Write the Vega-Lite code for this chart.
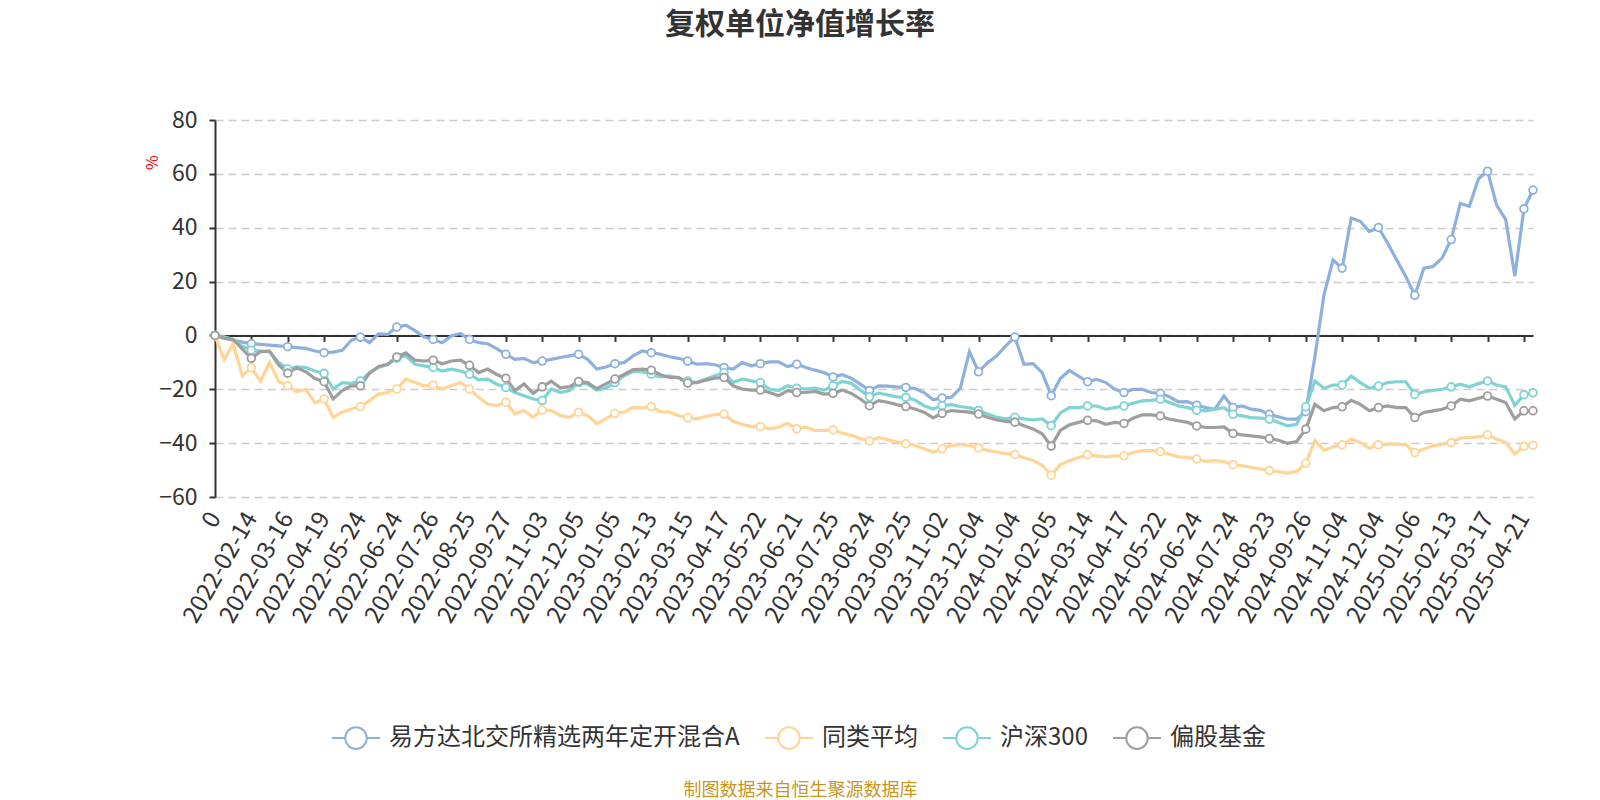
{
  "$schema": "https://vega.github.io/schema/vega-lite/v6.json",
  "width": 1318,
  "height": 377,
  "autosize": {"type": "none"},
  "padding": {"left": 215, "top": 120, "right": 67, "bottom": 303},
  "background": "white",
  "config": {"font": "Noto Sans CJK SC", "view": {"stroke": null}},
  "title": {"text": "复权单位净值增长率", "fontSize": 30, "fontWeight": "bold", "color": "#333333", "anchor": "middle", "offset": 69, "dx": -74, "font": "Noto Sans CJK SC"},
  "data": {"values": [
    {"d":"2022-01-07","易方达北交所精选两年定开混合A":0,"同类平均":0,"沪深300":0,"偏股基金":0},
    {"d":"2022-01-14","易方达北交所精选两年定开混合A":-0.9,"同类平均":-9,"沪深300":-0.5,"偏股基金":-1},
    {"d":"2022-01-21","易方达北交所精选两年定开混合A":-1.8,"同类平均":-3,"沪深300":-1.5,"偏股基金":-1.5},
    {"d":"2022-02-07","易方达北交所精选两年定开混合A":-2.5,"同类平均":-15,"沪深300":-4,"偏股基金":-5},
    {"d":"2022-02-14","易方达北交所精选两年定开混合A":-3.1,"同类平均":-12,"沪深300":-5.5,"偏股基金":-8.5},
    {"d":"2022-02-21","易方达北交所精选两年定开混合A":-3.3,"同类平均":-17,"沪深300":-5.8,"偏股基金":-6},
    {"d":"2022-03-01","易方达北交所精选两年定开混合A":-3.6,"同类平均":-10,"沪深300":-6,"偏股基金":-5.8},
    {"d":"2022-03-08","易方达北交所精选两年定开混合A":-3.9,"同类平均":-17,"沪深300":-10,"偏股基金":-11},
    {"d":"2022-03-16","易方达北交所精选两年定开混合A":-4.2,"同类平均":-18.7,"沪深300":-12.5,"偏股基金":-14},
    {"d":"2022-03-24","易方达北交所精选两年定开混合A":-4.5,"同类平均":-21,"沪深300":-11.7,"偏股基金":-12},
    {"d":"2022-04-01","易方达北交所精选两年定开混合A":-4.8,"同类平均":-20,"沪深300":-11.9,"偏股基金":-13.5},
    {"d":"2022-04-11","易方达北交所精选两年定开混合A":-5.8,"同类平均":-25,"沪深300":-13.2,"偏股基金":-16},
    {"d":"2022-04-19","易方达北交所精选两年定开混合A":-6.4,"同类平均":-23.6,"沪深300":-14.1,"偏股基金":-17.2},
    {"d":"2022-04-27","易方达北交所精选两年定开混合A":-6.2,"同类平均":-30.4,"沪深300":-19.9,"偏股基金":-23.6},
    {"d":"2022-05-09","易方达北交所精选两年定开混合A":-5.5,"同类平均":-28.5,"沪深300":-17.5,"偏股基金":-20.5},
    {"d":"2022-05-16","易方达北交所精选两年定开混合A":-1.8,"同类平均":-27.3,"沪深300":-17.8,"偏股基金":-18.7},
    {"d":"2022-05-24","易方达北交所精选两年定开混合A":-0.6,"同类平均":-26.4,"沪深300":-16.9,"偏股基金":-18.7},
    {"d":"2022-05-31","易方达北交所精选两年定开混合A":-2.7,"同类平均":-24.2,"沪深300":-13.8,"偏股基金":-14},
    {"d":"2022-06-09","易方达北交所精选两年定开混合A":0.6,"同类平均":-21.8,"沪深300":-11.9,"偏股基金":-11.5},
    {"d":"2022-06-16","易方达北交所精选两年定开混合A":0.4,"同类平均":-21.2,"沪深300":-10.7,"偏股基金":-10.7},
    {"d":"2022-06-24","易方达北交所精选两年定开混合A":3.1,"同类平均":-19.9,"沪深300":-8.5,"偏股基金":-8},
    {"d":"2022-07-01","易方达北交所精选两年定开混合A":3.8,"同类平均":-16.2,"沪深300":-7.6,"偏股基金":-6.5},
    {"d":"2022-07-11","易方达北交所精选两年定开混合A":1.8,"同类平均":-17.5,"沪深300":-10.7,"偏股基金":-9.2},
    {"d":"2022-07-18","易方达北交所精选两年定开混合A":-0.6,"同类平均":-18.7,"沪深300":-11.3,"偏股基金":-9.5},
    {"d":"2022-07-26","易方达北交所精选两年定开混合A":-1.5,"同类平均":-18.5,"沪深300":-11.9,"偏股基金":-9.2},
    {"d":"2022-08-02","易方达北交所精选两年定开混合A":-2.7,"同类平均":-19.9,"沪深300":-13.2,"偏股基金":-10.5},
    {"d":"2022-08-10","易方达北交所精选两年定开混合A":-0.2,"同类平均":-18.7,"沪深300":-12.5,"偏股基金":-9.5},
    {"d":"2022-08-17","易方达北交所精选两年定开混合A":0.7,"同类平均":-17.5,"沪深300":-13.2,"偏股基金":-9.2},
    {"d":"2022-08-25","易方达北交所精选两年定开混合A":-1.5,"同类平均":-19.9,"沪深300":-14.4,"偏股基金":-11.1},
    {"d":"2022-09-01","易方达北交所精选两年定开混合A":-2.7,"同类平均":-23,"沪深300":-16.5,"偏股基金":-13.8},
    {"d":"2022-09-09","易方达北交所精选两年定开混合A":-3.1,"同类平均":-25.5,"沪深300":-16.2,"偏股基金":-12.5},
    {"d":"2022-09-19","易方达北交所精选两年定开混合A":-4.9,"同类平均":-26.1,"沪深300":-18.1,"偏股基金":-14.5},
    {"d":"2022-09-27","易方达北交所精选两年定开混合A":-7,"同类平均":-24.8,"沪深300":-19.3,"偏股基金":-15.9},
    {"d":"2022-10-13","易方达北交所精选两年定开混合A":-8.9,"同类平均":-29.2,"沪深300":-21.2,"偏股基金":-20.5},
    {"d":"2022-10-20","易方达北交所精选两年定开混合A":-8.5,"同类平均":-27.9,"沪深300":-22.4,"偏股基金":-18},
    {"d":"2022-10-27","易方达北交所精选两年定开混合A":-10.1,"同类平均":-30.4,"沪深300":-23.6,"偏股基金":-21.5},
    {"d":"2022-11-03","易方达北交所精选两年定开混合A":-9.5,"同类平均":-27.7,"沪深300":-24.2,"偏股基金":-19.1},
    {"d":"2022-11-10","易方达北交所精选两年定开混合A":-8.9,"同类平均":-27.9,"沪深300":-19.9,"偏股基金":-17},
    {"d":"2022-11-17","易方达北交所精选两年定开混合A":-8.2,"同类平均":-29.8,"沪深300":-21.2,"偏股基金":-19.5},
    {"d":"2022-11-25","易方达北交所精选两年定开混合A":-7.6,"同类平均":-30.4,"沪深300":-20.5,"偏股基金":-19},
    {"d":"2022-12-05","易方达北交所精选两年定开混合A":-7,"同类平均":-28.5,"沪深300":-17.5,"偏股基金":-17.1},
    {"d":"2022-12-12","易方达北交所精选两年定开混合A":-8.9,"同类平均":-29.8,"沪深300":-18.1,"偏股基金":-17.5},
    {"d":"2022-12-19","易方达北交所精选两年定开混合A":-12.5,"同类平均":-32.8,"沪深300":-20.3,"偏股基金":-19.8},
    {"d":"2022-12-27","易方达北交所精选两年定开混合A":-11.7,"同类平均":-31,"沪深300":-19.6,"偏股基金":-18},
    {"d":"2023-01-05","易方达北交所精选两年定开混合A":-10.5,"同类平均":-28.9,"沪深300":-17.5,"偏股基金":-16.2},
    {"d":"2023-01-12","易方达北交所精选两年定开混合A":-10.1,"同类平均":-28.5,"沪深300":-15,"偏股基金":-14.5},
    {"d":"2023-01-19","易方达北交所精选两年定开混合A":-7.6,"同类平均":-26.7,"沪深300":-13.4,"偏股基金":-12.7},
    {"d":"2023-02-03","易方达北交所精选两年定开混合A":-5.8,"同类平均":-26.9,"沪深300":-13.5,"偏股基金":-12.5},
    {"d":"2023-02-13","易方达北交所精选两年定开混合A":-6.4,"同类平均":-26.4,"沪深300":-14.4,"偏股基金":-12.9},
    {"d":"2023-02-20","易方达北交所精选两年定开混合A":-7,"同类平均":-28.3,"沪深300":-15.4,"偏股基金":-14.6},
    {"d":"2023-02-27","易方达北交所精选两年定开混合A":-7.9,"同类平均":-28.5,"沪深300":-15,"偏股基金":-15.6},
    {"d":"2023-03-07","易方达北交所精选两年定开混合A":-8.5,"同类平均":-29.8,"沪深300":-15.9,"偏股基金":-15.6},
    {"d":"2023-03-15","易方达北交所精选两年定开混合A":-9.5,"同类平均":-30.6,"沪深300":-16.9,"偏股基金":-17.7},
    {"d":"2023-03-22","易方达北交所精选两年定开混合A":-10.7,"同类平均":-31,"沪深300":-17.5,"偏股基金":-17.5},
    {"d":"2023-03-30","易方达北交所精选两年定开混合A":-10.5,"同类平均":-30.1,"沪深300":-16.2,"偏股基金":-16.6},
    {"d":"2023-04-10","易方达北交所精选两年定开混合A":-10.9,"同类平均":-29.4,"沪深300":-15,"偏股基金":-15.9},
    {"d":"2023-04-17","易方达北交所精选两年定开混合A":-11.9,"同类平均":-29.2,"沪深300":-13.8,"偏股基金":-15.6},
    {"d":"2023-04-24","易方达北交所精选两年定开混合A":-12.5,"同类平均":-31.9,"沪深300":-17.5,"偏股基金":-18.7},
    {"d":"2023-05-05","易方达北交所精选两年定开混合A":-10.1,"同类平均":-33.1,"沪深300":-16.2,"偏股基金":-19.9},
    {"d":"2023-05-12","易方达北交所精选两年定开混合A":-11.3,"同类平均":-33.8,"沪深300":-16.9,"偏股基金":-20.3},
    {"d":"2023-05-22","易方达北交所精选两年定开混合A":-10.5,"同类平均":-33.8,"沪深300":-17.5,"偏股基金":-20.3},
    {"d":"2023-05-29","易方达北交所精选两年定开混合A":-9.8,"同类平均":-34.7,"沪深300":-19.9,"偏股基金":-21.2},
    {"d":"2023-06-05","易方达北交所精选两年定开混合A":-9.8,"同类平均":-34.1,"沪深300":-20.5,"偏股基金":-22.4},
    {"d":"2023-06-13","易方达北交所精选两年定开混合A":-11.6,"同类平均":-32.6,"沪深300":-18.7,"偏股基金":-20.5},
    {"d":"2023-06-21","易方达北交所精选两年定开混合A":-10.7,"同类平均":-34.7,"沪深300":-19.6,"偏股基金":-21.2},
    {"d":"2023-06-30","易方达北交所精选两年定开混合A":-11.9,"同类平均":-34.1,"沪深300":-19.9,"偏股基金":-21.2},
    {"d":"2023-07-10","易方达北交所精选两年定开混合A":-12.9,"同类平均":-35.3,"沪深300":-19.6,"偏股基金":-20.8},
    {"d":"2023-07-17","易方达北交所精选两年定开混合A":-13.8,"同类平均":-35.3,"沪深300":-20.3,"偏股基金":-21.8},
    {"d":"2023-07-25","易方达北交所精选两年定开混合A":-15.4,"同类平均":-35.1,"沪深300":-18.7,"偏股基金":-21.5},
    {"d":"2023-08-01","易方达北交所精选两年定开混合A":-14.6,"同类平均":-36.3,"沪深300":-17.1,"偏股基金":-20.3},
    {"d":"2023-08-08","易方达北交所精选两年定开混合A":-15.9,"同类平均":-37.1,"沪深300":-17.8,"偏股基金":-21.5},
    {"d":"2023-08-16","易方达北交所精选两年定开混合A":-18.1,"同类平均":-38.4,"沪深300":-20.3,"偏股基金":-23.6},
    {"d":"2023-08-24","易方达北交所精选两年定开混合A":-20.5,"同类平均":-39.2,"沪深300":-22.8,"偏股基金":-26.1},
    {"d":"2023-08-31","易方达北交所精选两年定开混合A":-18.7,"同类平均":-38,"沪深300":-21.4,"偏股基金":-24.2},
    {"d":"2023-09-08","易方达北交所精选两年定开混合A":-18.8,"同类平均":-38.7,"沪深300":-22.1,"偏股基金":-24.8},
    {"d":"2023-09-15","易方达北交所精选两年定开混合A":-19.1,"同类平均":-39.6,"沪深300":-22.8,"偏股基金":-25.7},
    {"d":"2023-09-25","易方达北交所精选两年定开混合A":-19.3,"同类平均":-40.2,"沪深300":-23,"偏股基金":-26.4},
    {"d":"2023-10-12","易方达北交所精选两年定开混合A":-19.7,"同类平均":-40.8,"沪深300":-24,"偏股基金":-27.3},
    {"d":"2023-10-19","易方达北交所精选两年定开混合A":-21.2,"同类平均":-42.1,"沪深300":-26.1,"偏股基金":-28.5},
    {"d":"2023-10-26","易方达北交所精选两年定开混合A":-23.9,"同类平均":-43.3,"沪深300":-27.3,"偏股基金":-30.6},
    {"d":"2023-11-02","易方达北交所精选两年定开混合A":-23.2,"同类平均":-42.1,"沪深300":-26.1,"偏股基金":-28.9},
    {"d":"2023-11-09","易方达北交所精选两年定开混合A":-23,"同类平均":-40.8,"沪深300":-25.7,"偏股基金":-27.9},
    {"d":"2023-11-16","易方达北交所精选两年定开混合A":-19.6,"同类平均":-40.5,"沪深300":-26.4,"偏股基金":-28.2},
    {"d":"2023-11-24","易方达北交所精选两年定开混合A":-6,"同类平均":-40.8,"沪深300":-26.9,"偏股基金":-28.5},
    {"d":"2023-12-04","易方达北交所精选两年定开混合A":-13.5,"同类平均":-41.8,"沪深300":-27.9,"偏股基金":-29.2},
    {"d":"2023-12-11","易方达北交所精选两年定开混合A":-10.1,"同类平均":-42.7,"沪深300":-29.2,"偏股基金":-30.4},
    {"d":"2023-12-18","易方达北交所精选两年定开混合A":-7.6,"同类平均":-43.3,"沪深300":-30.4,"偏股基金":-31.4},
    {"d":"2023-12-26","易方达北交所精选两年定开混合A":-3.9,"同类平均":-43.9,"沪深300":-31,"偏股基金":-31.9},
    {"d":"2024-01-04","易方达北交所精选两年定开混合A":-0.6,"同类平均":-44.2,"沪深300":-30.4,"偏股基金":-32.2},
    {"d":"2024-01-11","易方达北交所精选两年定开混合A":-10.7,"同类平均":-45.4,"沪深300":-31,"偏股基金":-33.5},
    {"d":"2024-01-18","易方达北交所精选两年定开混合A":-10.5,"同类平均":-46.4,"沪深300":-31.4,"偏股基金":-34.7},
    {"d":"2024-01-26","易方达北交所精选两年定开混合A":-13.8,"同类平均":-48.2,"沪深300":-31,"偏股基金":-36.5},
    {"d":"2024-02-05","易方达北交所精选两年定开混合A":-22.4,"同类平均":-51.9,"沪深300":-33.5,"偏股基金":-41.1},
    {"d":"2024-02-20","易方达北交所精选两年定开混合A":-16,"同类平均":-48,"沪深300":-28.8,"偏股基金":-35.3},
    {"d":"2024-02-28","易方达北交所精选两年定开混合A":-13,"同类平均":-46.5,"沪深300":-26.8,"偏股基金":-33.2},
    {"d":"2024-03-06","易方达北交所精选两年定开混合A":-15.1,"同类平均":-45.3,"沪深300":-26.8,"偏股基金":-32.3},
    {"d":"2024-03-14","易方达北交所精选两年定开混合A":-17.2,"同类平均":-44.3,"沪深300":-26.2,"偏股基金":-31.5},
    {"d":"2024-03-21","易方达北交所精选两年定开混合A":-16.3,"同类平均":-44.7,"沪深300":-26.2,"偏股基金":-31.7},
    {"d":"2024-03-29","易方达北交所精选两年定开混合A":-17.5,"同类平均":-45.1,"沪深300":-27.4,"偏股基金":-33},
    {"d":"2024-04-09","易方达北交所精选两年定开混合A":-20,"同类平均":-44.7,"沪深300":-26.8,"偏股基金":-32.3},
    {"d":"2024-04-17","易方达北交所精选两年定开混合A":-21.2,"同类平均":-44.7,"沪深300":-26.2,"偏股基金":-32.7},
    {"d":"2024-04-24","易方达北交所精选两年定开混合A":-20,"同类平均":-43.5,"沪深300":-25.2,"偏股基金":-30.7},
    {"d":"2024-05-08","易方达北交所精选两年定开混合A":-20,"同类平均":-42.8,"沪深300":-24.3,"偏股基金":-29.5},
    {"d":"2024-05-15","易方达北交所精选两年定开混合A":-21.2,"同类平均":-42.8,"沪深300":-24.1,"偏股基金":-29.5},
    {"d":"2024-05-22","易方达北交所精选两年定开混合A":-21.5,"同类平均":-43.1,"沪深300":-23.7,"偏股基金":-29.9},
    {"d":"2024-05-29","易方达北交所精选两年定开混合A":-22.8,"同类平均":-44.1,"沪深300":-24.9,"偏股基金":-31.1},
    {"d":"2024-06-05","易方达北交所精选两年定开混合A":-24.7,"同类平均":-45.1,"沪深300":-26.2,"偏股基金":-31.7},
    {"d":"2024-06-14","易方达北交所精选两年定开混合A":-24.6,"同类平均":-45.3,"沪深300":-26.8,"偏股基金":-32.3},
    {"d":"2024-06-24","易方达北交所精选两年定开混合A":-25.9,"同类平均":-45.9,"沪深300":-27.8,"偏股基金":-33.6},
    {"d":"2024-07-01","易方达北交所精选两年定开混合A":-26.8,"同类平均":-46.8,"沪深300":-28,"偏股基金":-34.2},
    {"d":"2024-07-09","易方达北交所精选两年定开混合A":-27.4,"同类平均":-46.5,"沪深300":-27.4,"偏股基金":-34.2},
    {"d":"2024-07-16","易方达北交所精选两年定开混合A":-22.5,"同类平均":-46.8,"沪深300":-26.8,"偏股基金":-34},
    {"d":"2024-07-24","易方达北交所精选两年定开混合A":-26.8,"同类平均":-48,"沪深300":-29.3,"偏股基金":-36.4},
    {"d":"2024-07-31","易方达北交所精选两年定开混合A":-26.2,"同类平均":-48.4,"沪深300":-29.9,"偏股基金":-36.9},
    {"d":"2024-08-08","易方达北交所精选两年定开混合A":-27.4,"同类平均":-49,"沪深300":-30.5,"偏股基金":-37.3},
    {"d":"2024-08-15","易方达北交所精选两年定开混合A":-27.8,"同类平均":-49.6,"沪深300":-30.7,"偏股基金":-37.7},
    {"d":"2024-08-23","易方达北交所精选两年定开混合A":-29.3,"同类平均":-50.2,"沪深300":-31.1,"偏股基金":-38.3},
    {"d":"2024-08-30","易方达北交所精选两年定开混合A":-30.2,"同类平均":-50.6,"沪深300":-32.3,"偏股基金":-38.9},
    {"d":"2024-09-06","易方达北交所精选两年定开混合A":-31.1,"同类平均":-51.1,"沪深300":-33.6,"偏股基金":-40.1},
    {"d":"2024-09-13","易方达北交所精选两年定开混合A":-31.1,"同类平均":-50.5,"沪深300":-33,"偏股基金":-39.4},
    {"d":"2024-09-26","易方达北交所精选两年定开混合A":-28.3,"同类平均":-47.5,"沪深300":-26.5,"偏股基金":-34.8},
    {"d":"2024-10-08","易方达北交所精选两年定开混合A":-8,"同类平均":-39.1,"沪深300":-16.9,"偏股基金":-25.6},
    {"d":"2024-10-16","易方达北交所精选两年定开混合A":15,"同类平均":-42.6,"沪深300":-19.6,"偏股基金":-28},
    {"d":"2024-10-25","易方达北交所精选两年定开混合A":28,"同类平均":-41.4,"沪深300":-18.4,"偏股基金":-26.8},
    {"d":"2024-11-04","易方达北交所精选两年定开混合A":25,"同类平均":-40.6,"沪深300":-18.4,"偏股基金":-26.5},
    {"d":"2024-11-11","易方达北交所精选两年定开混合A":43.6,"同类平均":-38.5,"沪深300":-15.1,"偏股基金":-24.1},
    {"d":"2024-11-19","易方达北交所精选两年定开混合A":42.4,"同类平均":-39.8,"沪深300":-17.5,"偏股基金":-25.6},
    {"d":"2024-11-26","易方达北交所精选两年定开混合A":38.6,"同类平均":-41.9,"沪深300":-19.6,"偏股基金":-28},
    {"d":"2024-12-04","易方达北交所精选两年定开混合A":40.1,"同类平均":-40.6,"沪深300":-18.8,"偏股基金":-26.8},
    {"d":"2024-12-11","易方达北交所精选两年定开混合A":34.3,"同类平均":-40.4,"沪深300":-17.5,"偏股基金":-26.2},
    {"d":"2024-12-18","易方达北交所精选两年定开混合A":28.1,"同类平均":-40.4,"沪深300":-17.2,"偏股基金":-26.8},
    {"d":"2024-12-26","易方达北交所精选两年定开混合A":21.9,"同类平均":-40.6,"沪深300":-17.2,"偏股基金":-26.8},
    {"d":"2025-01-06","易方达北交所精选两年定开混合A":14.9,"同类平均":-43.5,"沪深300":-21.9,"偏股基金":-30.5},
    {"d":"2025-01-13","易方达北交所精选两年定开混合A":25,"同类平均":-42.2,"沪深300":-20.9,"偏股基金":-28.6},
    {"d":"2025-01-20","易方达北交所精选两年定开混合A":25.6,"同类平均":-41,"沪深300":-20.4,"偏股基金":-28},
    {"d":"2025-02-05","易方达北交所精选两年定开混合A":28.7,"同类平均":-40.4,"沪深300":-20,"偏股基金":-27.4},
    {"d":"2025-02-13","易方达北交所精选两年定开混合A":35.6,"同类平均":-39.8,"沪深300":-19.1,"偏股基金":-26.2},
    {"d":"2025-02-20","易方达北交所精选两年定开混合A":49,"同类平均":-38.1,"沪深300":-18.1,"偏股基金":-23.7},
    {"d":"2025-02-27","易方达北交所精选两年定开混合A":48,"同类平均":-37.9,"沪深300":-19.1,"偏股基金":-24.3},
    {"d":"2025-03-07","易方达北交所精选两年定开混合A":58.2,"同类平均":-37.7,"沪深300":-17.9,"偏股基金":-23.3},
    {"d":"2025-03-17","易方达北交所精选两年定开混合A":61,"同类平均":-36.9,"沪深300":-16.9,"偏股基金":-22.5},
    {"d":"2025-03-24","易方达北交所精选两年定开混合A":48.4,"同类平均":-38.5,"沪深300":-18.4,"偏股基金":-23.7},
    {"d":"2025-04-01","易方达北交所精选两年定开混合A":43,"同类平均":-39.8,"沪深300":-19.1,"偏股基金":-24.9},
    {"d":"2025-04-10","易方达北交所精选两年定开混合A":22,"同类平均":-44,"沪深300":-26,"偏股基金":-31},
    {"d":"2025-04-21","易方达北交所精选两年定开混合A":47,"同类平均":-41.2,"沪深300":-22,"偏股基金":-28},
    {"d":"2025-04-23","易方达北交所精选两年定开混合A":54,"同类平均":-40.8,"沪深300":-21.3,"偏股基金":-28}
  ]},
  "transform": [{"fold": ["易方达北交所精选两年定开混合A", "同类平均", "沪深300", "偏股基金"], "as": ["series", "value"]}],
  "encoding": {
    "y": {"field": "value", "type": "quantitative", "scale": {"domain": [-60, 80], "nice": false, "zero": false},
      "axis": {"values": [80, 60, 40, 20, 0, -20, -40, -60], "domainColor": "#333333", "domainWidth": 2, "tickColor": "#333333", "tickWidth": 2, "tickSize": 6, "labelFontSize": 23, "labelColor": "#333333", "labelPadding": 12, "grid": true, "gridColor": "#cccccc", "gridDash": [8, 5], "gridWidth": 1.5, "title": "%", "titleColor": "red", "titleFontSize": 16, "titleFontWeight": "normal", "titleX": -63, "titleY": 42, "titleAngle": -90, "titleAlign": "center", "titleBaseline": "middle"}},
    "color": {"field": "series", "type": "nominal",
      "scale": {"domain": ["易方达北交所精选两年定开混合A", "同类平均", "沪深300", "偏股基金"], "range": ["#8EB0DE", "#FFD494", "#7FD3D4", "#9E9E9E"]},
      "legend": {"orient": "none", "legendX": 116, "legendY": 593, "direction": "horizontal", "title": null, "symbolType": "M-1,0H-0.45M0.45,0H1M0.45,0A0.45,0.45,0,1,1,-0.45,0A0.45,0.45,0,1,1,0.45,0Z", "symbolSize": 2300, "symbolStrokeWidth": 2, "symbolFillColor": "white", "symbolOpacity": 1, "labelFontSize": 24, "labelColor": "#333333", "labelLimit": 800, "columnPadding": 21, "labelOffset": 8}}
  },
  "layer": [
    {
      "mark": {"type": "line", "strokeWidth": 3.2, "interpolate": "linear"},
      "encoding": {
        "x": {"field": "d", "type": "ordinal", "scale": {"type": "point", "padding": 0},
          "axis": {
            "labelExpr": "datum.value == '2022-01-07' ? '0' : (indexof(['2022-02-14','2022-03-16','2022-04-19','2022-05-24','2022-06-24','2022-07-26','2022-08-25','2022-09-27','2022-11-03','2022-12-05','2023-01-05','2023-02-13','2023-03-15','2023-04-17','2023-05-22','2023-06-21','2023-07-25','2023-08-24','2023-09-25','2023-11-02','2023-12-04','2024-01-04','2024-02-05','2024-03-14','2024-04-17','2024-05-22','2024-06-24','2024-07-24','2024-08-23','2024-09-26','2024-11-04','2024-12-04','2025-01-06','2025-02-13','2025-03-17','2025-04-21'], datum.value) >= 0 ? datum.label : '')",
            "domain": false, "ticks": false, "grid": false, "labelOverlap": false, "labelAngle": -60, "labelAlign": "right", "labelBaseline": "middle", "labelFontSize": 24, "labelColor": "#333333", "labelPadding": 17,
            "title": "制图数据来自恒生聚源数据库", "titleColor": "#C8961E", "titleFontSize": 18, "titleFontWeight": "normal", "titleX": 585, "titleY": 293, "titleAlign": "center", "titleBaseline": "middle", "titleAngle": 0}}
      }
    },
    {
      "transform": [{"filter": {"field": "d", "oneOf": ["2022-01-07","2022-02-14","2022-03-16","2022-04-19","2022-05-24","2022-06-24","2022-07-26","2022-08-25","2022-09-27","2022-11-03","2022-12-05","2023-01-05","2023-02-13","2023-03-15","2023-04-17","2023-05-22","2023-06-21","2023-07-25","2023-08-24","2023-09-25","2023-11-02","2023-12-04","2024-01-04","2024-02-05","2024-03-14","2024-04-17","2024-05-22","2024-06-24","2024-07-24","2024-08-23","2024-09-26","2024-11-04","2024-12-04","2025-01-06","2025-02-13","2025-03-17","2025-04-21","2025-04-23"]}}],
      "mark": {"type": "point", "filled": false, "fill": "white", "fillOpacity": 1, "opacity": 1, "size": 60, "strokeWidth": 1.8},
      "encoding": {
        "x": {"field": "d", "type": "ordinal", "scale": {"type": "point", "padding": 0},
          "axis": {"values": ["2022-01-07","2022-02-14","2022-03-16","2022-04-19","2022-05-24","2022-06-24","2022-07-26","2022-08-25","2022-09-27","2022-11-03","2022-12-05","2023-01-05","2023-02-13","2023-03-15","2023-04-17","2023-05-22","2023-06-21","2023-07-25","2023-08-24","2023-09-25","2023-11-02","2023-12-04","2024-01-04","2024-02-05","2024-03-14","2024-04-17","2024-05-22","2024-06-24","2024-07-24","2024-08-23","2024-09-26","2024-11-04","2024-12-04","2025-01-06","2025-02-13","2025-03-17","2025-04-21"],
            "orient": "bottom", "offset": -161.6, "labels": false, "domain": true, "domainColor": "#333333", "domainWidth": 2, "ticks": true, "tickColor": "#333333", "tickWidth": 2, "tickSize": 6, "grid": false, "title": null}}
      }
    }
  ],
  "resolve": {"axis": {"x": "independent"}}
}
